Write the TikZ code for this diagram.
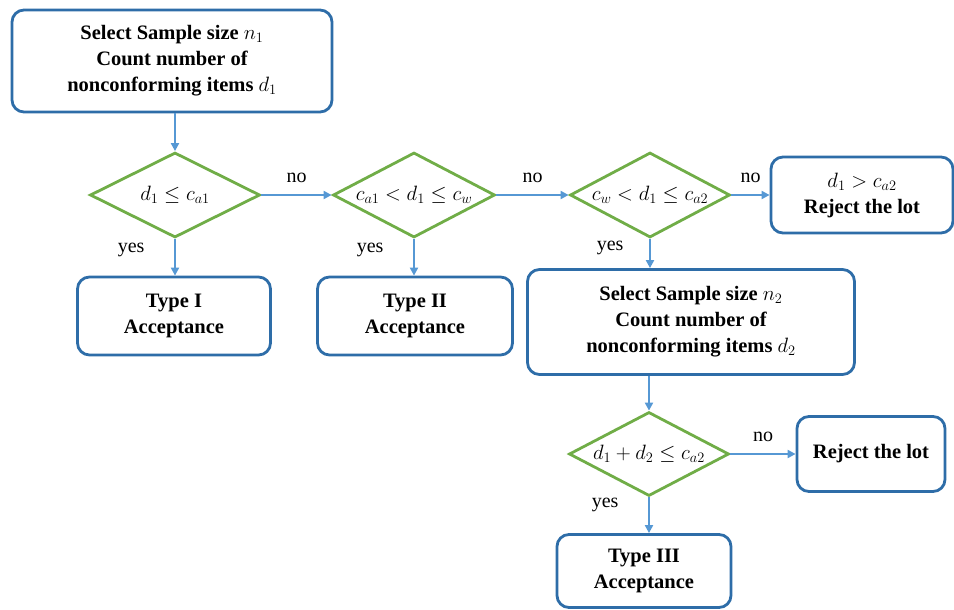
\documentclass[tikz,border=0pt]{standalone}
\usepackage{fontspec}
\setmainfont{Liberation Serif}
\usepackage{tikz}
\usetikzlibrary{shapes, arrows.meta, positioning, calc}
\definecolor{boxblue}{RGB}{46, 109, 168}
\definecolor{arrowblue}{RGB}{86, 152, 212}
\definecolor{diagreen}{RGB}{112, 173, 71}

\begin{document}
\begin{tikzpicture}[
  x=1pt, y=-1pt,
  pbox/.style={draw=boxblue, line width=2.8pt, rounded corners=12pt, align=center, font=\fontsize{20.5}{26}\selectfont\bfseries, inner sep=2pt},
  test/.style={diamond, draw=diagreen, line width=2.8pt, aspect=2, inner sep=0pt, font=\fontsize{20.74}{23}\selectfont},
  flow/.style={draw=arrowblue, line width=2.4pt, -{Triangle[length=8pt, width=8pt]}},
  lbl/.style={font=\fontsize{20}{22}\selectfont}
]
  \useasboundingbox (0,0) rectangle (954,610);

  % first sample
  \node[pbox, minimum width=320pt, minimum height=102pt] (samp1) at (172, 61)
    {Select Sample size $n_1$\\Count number of\\nonconforming items $d_1$};

  % decisions on d1
  \node[test, minimum width=170pt, minimum height=85pt] (t1) at (175, 195) {$d_1 \le c_{a1}$};
  \node[test, minimum width=162pt, minimum height=85pt] (t2) at (414, 195) {$c_{a1} < d_1 \le c_{w}$};
  \node[test, minimum width=160pt, minimum height=85pt] (t3) at (650, 195) {$c_{w} < d_1 \le c_{a2}$};

  \node[pbox, minimum width=182pt, minimum height=76pt] (rej1) at (862, 195)
    {\mdseries$d_1 > c_{a2}$\\Reject the lot};

  \node[pbox, minimum width=193pt, minimum height=78pt] (acc1) at (174, 316) {Type I\\Acceptance};
  \node[pbox, minimum width=195pt, minimum height=78pt] (acc2) at (415, 316) {Type II\\Acceptance};

  % second sample
  \node[pbox, minimum width=327pt, minimum height=105pt] (samp2) at (691, 322)
    {Select Sample size $n_2$\\Count number of\\nonconforming items $d_2$};

  \node[test, minimum width=160pt, minimum height=84pt] (t4) at (649, 454) {$d_1 + d_2 \le c_{a2}$};
  \node[pbox, minimum width=148pt, minimum height=75pt] (rej2) at (871, 454) {Reject the lot};
  \node[pbox, minimum width=174pt, minimum height=73pt] (acc3) at (644, 571) {Type III\\Acceptance};

  % connectors
  \draw[flow] (samp1.south -| t1.north) -- (t1.north);
  \draw[flow] (t1.east) -- node[lbl, above=8pt] {no} (t2.west);
  \draw[flow] (t2.east) -- node[lbl, above=8pt] {no} (t3.west);
  \draw[flow] (t3.east) -- node[lbl, above=8pt] {no} (rej1.west);
  \draw[flow] (t1.south) -- node[lbl, pos=0.3, left=26pt] {yes} (t1.south |- acc1.north);
  \draw[flow] (t2.south) -- node[lbl, pos=0.3, left=26pt] {yes} (t2.south |- acc2.north);
  \draw[flow] (t3.south) -- node[lbl, pos=0.3, left=22pt] {yes} (t3.south |- samp2.north);
  \draw[flow] (samp2.south -| t4.north) -- (t4.north);
  \draw[flow] (t4.east) -- node[lbl, above=8pt] {no} (rej2.west);
  \draw[flow] (t4.south) -- node[lbl, pos=0.2, left=26pt] {yes} (t4.south |- acc3.north);
\end{tikzpicture}
\end{document}
